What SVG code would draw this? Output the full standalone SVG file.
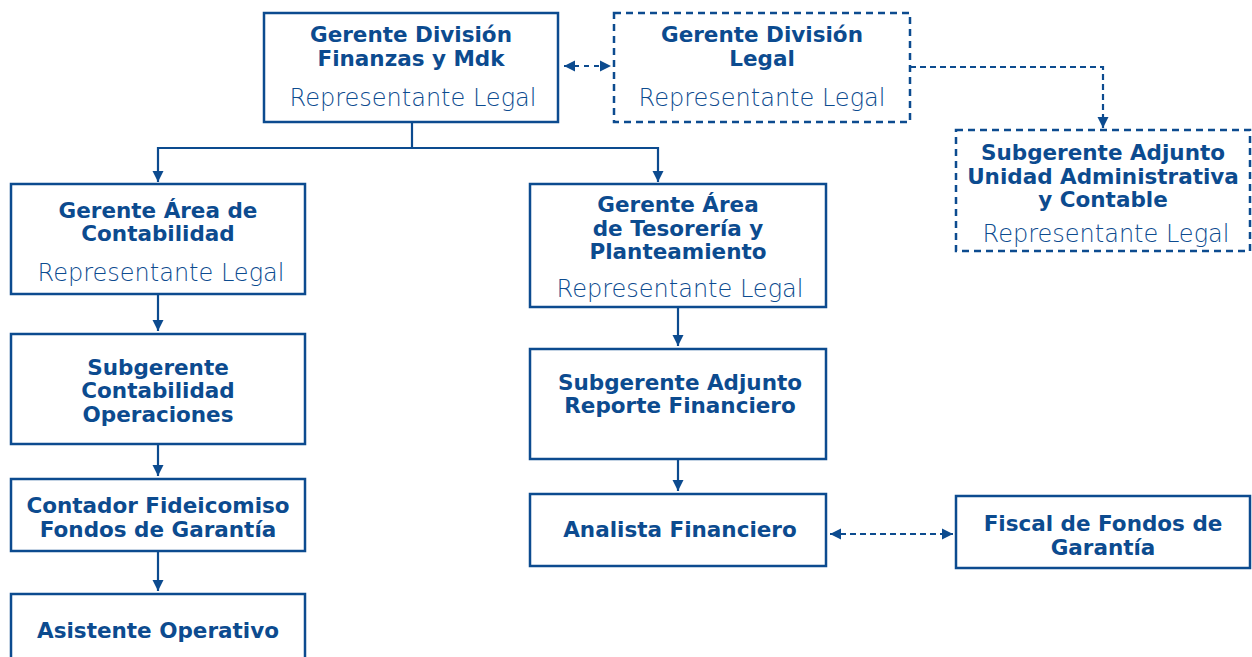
<svg xmlns="http://www.w3.org/2000/svg" width="1252" height="657" viewBox="0 0 1252 657">
<defs>
<style>
.box{fill:#fff;stroke:#0c4b8f;stroke-width:2.5}
.dash{stroke-dasharray:7 5}
.t{font-family:"DejaVu Sans","Noto Sans",sans-serif;font-weight:700;font-size:21.5px;fill:#0c4b8f;text-anchor:middle}
.r{font-family:"DejaVu Sans","Noto Sans",sans-serif;font-weight:200;font-size:24px;fill:#0c4b8f;text-anchor:middle}
.c{fill:none;stroke:#0c4b8f;stroke-width:2.2}
</style>
<marker id="ah" viewBox="0 0 10 10" refX="10" refY="5" markerWidth="5" markerHeight="5.5" orient="auto-start-reverse" markerUnits="strokeWidth">
<path d="M0,0L10,5L0,10z" fill="#0c4b8f"/>
</marker>
</defs>
<rect width="1252" height="657" fill="#fff"/>
<g id="connectors">
<path class="c" d="M412,122V148H158V182" marker-end="url(#ah)"/>
<path class="c" d="M412,148H658V182" marker-end="url(#ah)"/>
<path class="c" d="M564,66H611" marker-start="url(#ah)" marker-end="url(#ah)" style="stroke-dasharray:5 5"/>
<path class="c" d="M910,67H1103V128" marker-end="url(#ah)" style="stroke-dasharray:6 4"/>
<path class="c" d="M158,295V331" marker-end="url(#ah)"/>
<path class="c" d="M158,445V476" marker-end="url(#ah)"/>
<path class="c" d="M158,552V591" marker-end="url(#ah)"/>
<path class="c" d="M678,308V346" marker-end="url(#ah)"/>
<path class="c" d="M678,460V491" marker-end="url(#ah)"/>
<path class="c" d="M830,534H953" marker-start="url(#ah)" marker-end="url(#ah)" style="stroke-dasharray:6 4"/>
</g>
<g id="gerente-finanzas">
<rect class="box" x="264" y="13" width="294" height="109"/>
<text class="t"><tspan x="411" y="42">Gerente División</tspan><tspan x="411" y="66">Finanzas y Mdk</tspan></text>
<text class="r" x="413" y="106">Representante Legal</text>
</g>
<g id="gerente-legal">
<rect class="box dash" x="614" y="13" width="296" height="109"/>
<text class="t"><tspan x="762" y="42">Gerente División</tspan><tspan x="762" y="66">Legal</tspan></text>
<text class="r" x="762" y="106">Representante Legal</text>
</g>
<g id="subgerente-unidad">
<rect class="box dash" x="956" y="130" width="294" height="121"/>
<text class="t"><tspan x="1103" y="160">Subgerente Adjunto</tspan><tspan x="1103" y="184">Unidad Administrativa</tspan><tspan x="1103" y="207">y Contable</tspan></text>
<text class="r" x="1106" y="242">Representante Legal</text>
</g>
<g id="gerente-contabilidad">
<rect class="box" x="11" y="184" width="294" height="110"/>
<text class="t"><tspan x="158" y="218">Gerente Área de</tspan><tspan x="158" y="241">Contabilidad</tspan></text>
<text class="r" x="161" y="281">Representante Legal</text>
</g>
<g id="gerente-tesoreria">
<rect class="box" x="530" y="184" width="296" height="123"/>
<text class="t"><tspan x="678" y="212">Gerente Área</tspan><tspan x="678" y="236">de Tesorería y</tspan><tspan x="678" y="259">Planteamiento</tspan></text>
<text class="r" x="680" y="297">Representante Legal</text>
</g>
<g id="subgerente-contabilidad">
<rect class="box" x="11" y="334" width="294" height="110"/>
<text class="t"><tspan x="158" y="375">Subgerente</tspan><tspan x="158" y="398">Contabilidad</tspan><tspan x="158" y="422">Operaciones</tspan></text>
</g>
<g id="contador">
<rect class="box" x="11" y="479" width="294" height="72"/>
<text class="t"><tspan x="158" y="513">Contador Fideicomiso</tspan><tspan x="158" y="537">Fondos de Garantía</tspan></text>
</g>
<g id="asistente">
<rect class="box" x="11" y="594" width="294" height="70"/>
<text class="t" x="158" y="638">Asistente Operativo</text>
</g>
<g id="subgerente-reporte">
<rect class="box" x="530" y="349" width="296" height="110"/>
<text class="t"><tspan x="680" y="390">Subgerente Adjunto</tspan><tspan x="680" y="413">Reporte Financiero</tspan></text>
</g>
<g id="analista">
<rect class="box" x="530" y="494" width="296" height="72"/>
<text class="t" x="680" y="537">Analista Financiero</text>
</g>
<g id="fiscal">
<rect class="box" x="956" y="496" width="294" height="72"/>
<text class="t"><tspan x="1103" y="531">Fiscal de Fondos de</tspan><tspan x="1103" y="555">Garantía</tspan></text>
</g>
</svg>
